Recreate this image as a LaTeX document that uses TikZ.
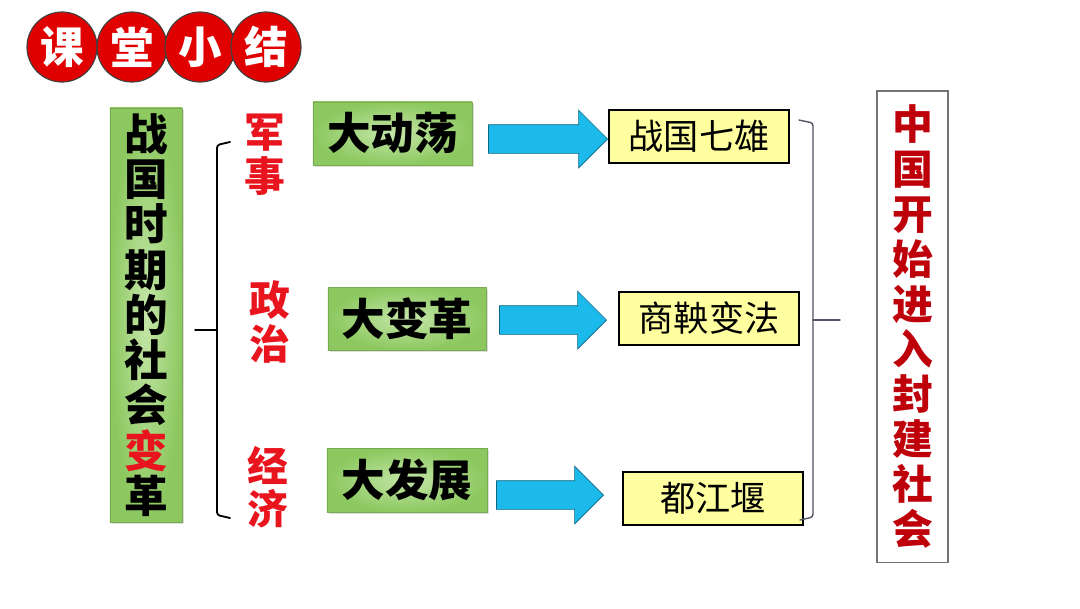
\documentclass[tikz,border=0pt]{standalone}
\usepackage{fontspec}
\setmainfont{Noto Sans CJK SC}
\usetikzlibrary{shapes.arrows,shadows,positioning}
\definecolor{TitleRed}{RGB}{225,0,0}
\definecolor{LabelRed}{RGB}{232,20,30}
\definecolor{DeepRed}{RGB}{190,0,10}
\definecolor{BoxGreen}{RGB}{140,200,95}
\definecolor{LightGreen}{RGB}{196,230,168}
\definecolor{NoteYellow}{RGB}{255,255,160}
\definecolor{ArrowBlue}{RGB}{28,185,235}
\definecolor{BraceGray}{RGB}{80,85,100}
\tikzset{titledot/.style={circle, draw=black!75, line width=0.8pt,
    fill=TitleRed, minimum size=1.75cm, inner sep=0pt, text=white,
    font=\fontsize{31}{31}\selectfont\bfseries}}
\tikzset{greenbox/.style={draw=BoxGreen!85!black, line width=0.4pt,
    inner color=LightGreen, outer color=BoxGreen,
    drop shadow={opacity=0.25, shadow xshift=0.06cm, shadow yshift=-0.06cm},
    inner sep=0pt, font=\fontsize{31}{31}\selectfont\bfseries}}
\tikzset{notebox/.style={draw=black, line width=1.4pt, fill=NoteYellow,
    minimum width=4.5cm, minimum height=1.325cm, inner sep=0pt,
    font=\fontsize{25}{25}\selectfont}}
\tikzset{bluearrow/.style={single arrow, draw=ArrowBlue!55!black,
    line width=0.5pt, fill=ArrowBlue, single arrow head extend=0.3625cm,
    single arrow tip angle=90, inner xsep=0pt, inner ysep=0.35cm,
    anchor=tip}}

\begin{document}
\begin{tikzpicture}[x=0.025cm, y=-0.025cm,
    aspect/.style={text=LabelRed, align=center,
      font=\fontsize{29}{31}\selectfont\bfseries},
    brace/.style={line width=1.3pt, line cap=round, rounded corners=2pt}]
  \useasboundingbox[fill=white] (0,0) rectangle (1080,608);

  \foreach \x/\t [count=\i] in {62/课, 132/堂, 200/小, 266/结}
    \node[titledot] (title\i) at (\x,47) {\t};

  \node[greenbox, minimum width=1.8cm, minimum height=10.35cm, align=center,
    font=\fontsize{31}{32.2}\selectfont\bfseries] (society) at (146,315)
    {战\\国\\时\\期\\的\\社\\会\\\textcolor{LabelRed}{变}\\革};

  \coordinate (lb top) at (230,142);
  \coordinate (lb bottom) at (230,518);
  \coordinate (lb mid) at (217,330);
  \coordinate (lb tick) at (195,330);
  \draw[brace] (lb top) -- (217,145) -- (217,515) -- (lb bottom);
  \draw[brace] (lb tick) -- (lb mid);

  \node[aspect] (military) at (265,155) {军\\事};
  \node[aspect] (politics) at (270,322) {政\\治};
  \node[aspect] (economy) at (268,487) {经\\济};

  \node[greenbox, minimum width=3.975cm, minimum height=1.575cm] (turmoil)
    at (392.5,133.5) {大动荡};
  \node[greenbox, minimum width=3.95cm, minimum height=1.575cm] (reform)
    at (407,318.5) {大变革};
  \node[greenbox, minimum width=4cm, minimum height=1.6cm] (growth)
    at (407,480) {大发展};

  \node[notebox] (sevenstates) at (699,136.5) {战国七雄};
  \node[notebox] (shangyang) at (709,318.5) {商鞅变法};
  \node[notebox] (dujiangyan) at (713,498.5) {都江堰};

  \node[bluearrow, minimum height=2.975cm] (arrow1) at (608,139) {};
  \node[bluearrow, minimum height=2.675cm] (arrow2) at (607,320) {};
  \node[bluearrow, minimum height=2.675cm] (arrow3) at (604,495) {};

  \node[draw=black!55, line width=0.8pt, fill=white, minimum width=1.775cm,
    minimum height=11.775cm, align=center, text=DeepRed,
    font=\fontsize{29}{32}\selectfont\bfseries] (feudal) at (912.5,326.5)
    {中\\国\\开\\始\\进\\入\\封\\建\\社\\会};

  \coordinate (rb top) at (799,120);
  \coordinate (rb bottom) at (800,520);
  \coordinate (rb mid) at (813,320);
  \coordinate (rb tick) at (840,320);
  \draw[brace, draw=BraceGray, line width=1pt] (rb top) -- (813,123)
    -- (813,517) -- (rb bottom);
  \draw[brace, draw=BraceGray, line width=1pt] (rb mid) -- (rb tick);
\end{tikzpicture}
\end{document}
